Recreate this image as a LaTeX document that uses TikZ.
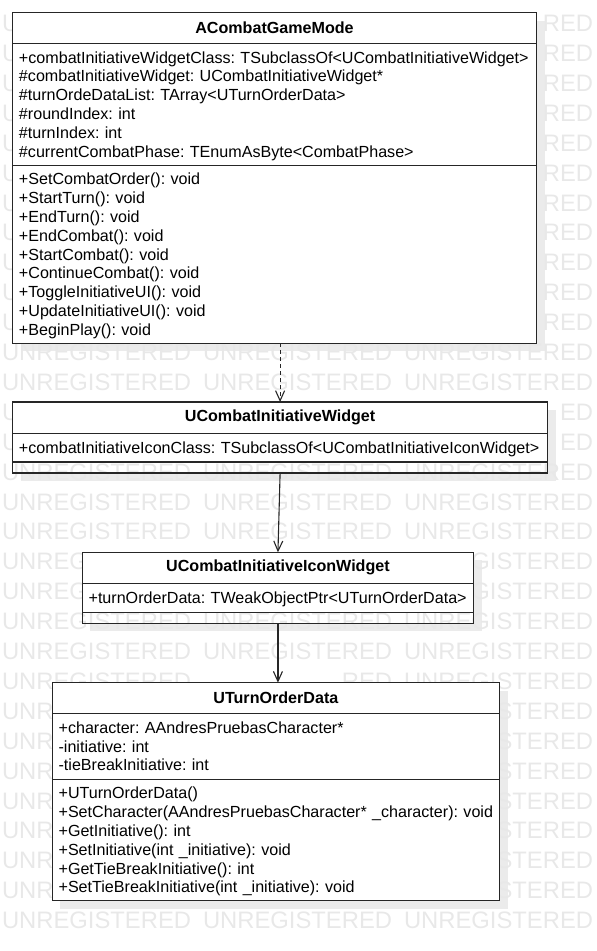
\documentclass[tikz,border=0pt]{standalone}
\usepackage{fontspec}
\setmainfont{Liberation Sans}
\usetikzlibrary{positioning,backgrounds,arrows.meta}

% one line of a compartment
\newcommand{\umlrow}[1]{\mbox{\rule[-3.6pt]{0pt}{18.8pt}#1}}
\frenchspacing

\begin{document}
\begin{tikzpicture}[x=1pt, y=-1pt, font=\fontsize{16.1}{18.8}\selectfont,
  every node/.style={draw=black!85, line width=1.1pt, fill=white, outer sep=0pt, inner sep=0pt},
  title/.style={font=\fontsize{16.1}{18.8}\selectfont\bfseries, align=center},
  part/.style={align=left, inner xsep=6.5pt},
  empty/.style={fill=none},
  wmark/.style={draw=none, fill=none, anchor=base west, text=black!9, font=\fontsize{23.8}{24}\selectfont},
  shadowbox/.style={fill=black!8},
  assoc/.style={draw=black!85, line width=1.1pt, -{Straight Barb[length=10pt, width=9pt]}},
  dep/.style={assoc, dash pattern=on 4pt off 3pt}]
  \useasboundingbox (0,0) rectangle (597,951);

  \node (gm) [title, minimum width=524pt, minimum height=30.6pt, anchor=north west] at (12.5,12.7) {ACombatGameMode};
  \node (gmA) [part, text width=511pt, minimum height=122pt, below=0pt of gm]
    {\umlrow{+combatInitiativeWidgetClass: TSubclassOf<UCombatInitiativeWidget>}\\
     \umlrow{\#combatInitiativeWidget: UCombatInitiativeWidget*}\\
     \umlrow{\#turnOrdeDataList: TArray<UTurnOrderData>}\\
     \umlrow{\#roundIndex: int}\\
     \umlrow{\#turnIndex: int}\\
     \umlrow{\#currentCombatPhase: TEnumAsByte<CombatPhase>}};
  \node (gmO) [part, text width=511pt, minimum height=178pt, below=0pt of gmA]
    {\umlrow{+SetCombatOrder(): void}\\
     \umlrow{+StartTurn(): void}\\
     \umlrow{+EndTurn(): void}\\
     \umlrow{+EndCombat(): void}\\
     \umlrow{+StartCombat(): void}\\
     \umlrow{+ContinueCombat(): void}\\
     \umlrow{+ToggleInitiativeUI(): void}\\
     \umlrow{+UpdateInitiativeUI(): void}\\
     \umlrow{+BeginPlay(): void}};

  \node (cw) [title, minimum width=535.2pt, minimum height=31.3pt, anchor=north west] at (12.5,402) {UCombatInitiativeWidget};
  \node (cwA) [part, text width=522.2pt, minimum height=28.7pt, below=0pt of cw]
    {\umlrow{+combatInitiativeIconClass: TSubclassOf<UCombatInitiativeIconWidget>}};
  \node (cwE) [empty, minimum width=535.2pt, minimum height=11pt, below=0pt of cwA] {};

  \node (ciw) [title, minimum width=391.7pt, minimum height=31pt, anchor=north west] at (82.1,552.3) {UCombatInitiativeIconWidget};
  \node (ciwA) [part, text width=378.7pt, minimum height=29pt, below=0pt of ciw]
    {\umlrow{+turnOrderData: TWeakObjectPtr<UTurnOrderData>}};
  \node (ciwE) [empty, minimum width=391.7pt, minimum height=11pt, below=0pt of ciwA] {};

  \node (td) [title, minimum width=447.5pt, minimum height=30.6pt, anchor=north west] at (52.1,682.7) {UTurnOrderData};
  \node (tdA) [part, text width=434.5pt, minimum height=66pt, below=0pt of td]
    {\umlrow{+character: AAndresPruebasCharacter*}\\
     \umlrow{-initiative: int}\\
     \umlrow{-tieBreakInitiative: int}};
  \node (tdO) [part, text width=434.5pt, minimum height=121.4pt, below=0pt of tdA]
    {\umlrow{+UTurnOrderData()}\\
     \umlrow{+SetCharacter(AAndresPruebasCharacter* \_character): void}\\
     \umlrow{+GetInitiative(): int}\\
     \umlrow{+SetInitiative(int \_initiative): void}\\
     \umlrow{+GetTieBreakInitiative(): int}\\
     \umlrow{+SetTieBreakInitiative(int \_initiative): void}};

  \draw[dep] (gmO.south -| cw.north) -- (cw.north);
  \draw[assoc] (cwE.south) -- (ciw.north);
  \draw[assoc] (ciwE.south) -- (ciwE.south |- td.north);

  \begin{scope}[on background layer]
    % shadows
    \fill[shadowbox] ([shift={(8,8)}]gm.north west) rectangle ([shift={(8,8)}]gmO.south east);
    \fill[shadowbox] ([shift={(8,8)}]cw.north west) rectangle ([shift={(8,8)}]cwE.south east);
    \fill[shadowbox] ([shift={(8,8)}]ciw.north west) rectangle ([shift={(8,8)}]ciwE.south east);
    \fill[shadowbox] ([shift={(8,8)}]td.north west) rectangle ([shift={(8,8)}]tdO.south east);
    \fill[white] (cwE.north west) rectangle (cwE.south east);
    \fill[white] (ciwE.north west) rectangle (ciwE.south east);
    % watermark, only where it shows
    \foreach \r in {11,12,15,16,17,20,21,30}
      \foreach \c in {0,1,2}
        \node (wm-\r-\c) [wmark] at (2+201*\c, 31.6+29.9*\r) {UNREGISTERED};
    \node (wm-22-0) [wmark] at (2, 689.4) {UNREGISTERED};
    \node (wm-22-1) [wmark, anchor=base east] at (392.1, 689.4) {RED};
    \node (wm-22-2) [wmark] at (404, 689.4) {UNREGISTERED};
    \foreach \r/\lt/\rt in {0/U/RED, 1/U/RED, 2/U/RED, 3/U/RED, 4/U/RED, 5/U/RED,
        6/U/RED, 7/U/RED, 8/U/RED, 9/U/RED, 10/U/RED, 13/U/ED, 14/U/ED,
        18/UNREG/GISTERED, 19/UNREG/GISTERED, 23/UNR/STERED, 24/UNR/STERED,
        25/UNR/STERED, 26/UNR/STERED, 27/UNR/STERED, 28/UNR/STERED, 29/UNR/STERED} {
      \node (wm-\r-l) [wmark] at (2, 31.6+29.9*\r) {\lt};
      \node (wm-\r-r) [wmark, anchor=base east] at (593.1, 31.6+29.9*\r) {\rt};
    }
  \end{scope}
\end{tikzpicture}
\end{document}
